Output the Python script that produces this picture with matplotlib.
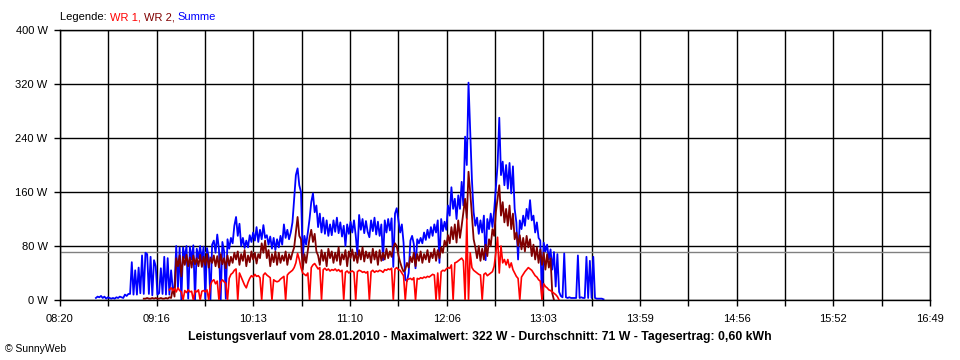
import numpy as np
import matplotlib
matplotlib.use('Agg')
import matplotlib.pyplot as plt

plt.rcParams['font.family'] = ['Liberation Sans', 'DejaVu Sans']

# time axis in minutes after midnight (08:20 .. 16:49)
t_min, t_max = 500, 1009
x_labels = ['08:20', '09:16', '10:13', '11:10', '12:06', '13:03', '13:59', '14:56', '15:52', '16:49']
y_ticks = [0, 80, 160, 240, 320, 400]
avg_w = 71  # Durchschnitt

# one value per minute
summe_start = 521  # 08:41
summe = [
    3, 5, 4, 6, 3, 5, 2, 4, 3, 2,
    3, 2, 4, 3, 5, 4, 3, 8, 6, 9,
    9, 56, 8, 44, 8, 48, 10, 66, 9, 70,
    68, 9, 64, 7, 59, 50, 8, 10, 47, 9,
    64, 8, 62, 8, 44, 16, 19, 80, 17, 78,
    0, 78, 62, 80, 2, 79, 60, 81, 0, 76,
    62, 80, 58, 79, 2, 77, 63, 0, 82, 88,
    70, 97, 75, 0, 86, 72, 2, 90, 76, 92,
    84, 110, 123, 95, 113, 80, 92, 77, 88, 78,
    96, 86, 100, 88, 108, 86, 104, 90, 111, 92,
    96, 82, 94, 76, 92, 74, 90, 78, 95, 82,
    112, 92, 104, 90, 100, 115, 150, 185, 195, 170,
    160, 62, 95, 82, 100, 120, 145, 158, 130, 140,
    108, 128, 100, 122, 98, 118, 95, 112, 96, 118,
    101, 122, 99, 115, 94, 110, 80, 112, 98, 116,
    100, 118, 96, 67, 126, 104, 120, 99, 117, 101,
    93, 118, 102, 122, 97, 116, 95, 112, 59, 118,
    100, 120, 103, 121, 49, 128, 136, 118, 100, 112,
    85, 30, 28, 40, 88, 95, 83, 47, 90, 84,
    92, 84, 100, 89, 104, 92, 108, 95, 112, 100,
    118, 55, 120, 102, 116, 104, 140, 125, 167, 135,
    150, 120, 155, 135, 175, 140, 242, 200, 322, 249,
    178, 130, 110, 122, 98, 118, 100, 125, 59, 120,
    105, 128, 108, 132, 165, 200, 270, 185, 205, 170,
    200, 165, 203, 158, 198, 135, 115, 60, 118, 105,
    125, 110, 135, 120, 148, 118, 125, 100, 115, 92,
    88, 0, 85, 72, 82, 60, 75, 45, 71, 20,
    68, 12, 6, 4, 69, 4, 3, 4, 3, 3,
    3, 3, 66, 3, 4, 3, 3, 64, 3, 58,
    3, 64, 3, 2, 2, 2, 2, 1,
]

wr2_start = 549  # 09:09
wr2 = [
    2, 2,
    3, 2, 2, 3, 2, 3, 2, 2, 3, 2,
    2, 3, 2, 4, 3, 17, 5, 62, 50, 66,
    35, 64, 52, 67, 50, 63, 48, 66, 53, 62,
    50, 67, 49, 64, 52, 68, 48, 63, 55, 66,
    50, 65, 48, 68, 53, 62, 47, 66, 51, 64,
    55, 70, 60, 72, 52, 68, 58, 74, 50, 66,
    56, 72, 60, 70, 54, 68, 62, 84, 70, 88,
    62, 74, 50, 68, 56, 72, 52, 70, 55, 66,
    58, 72, 52, 68, 60, 70, 78, 100, 123, 95,
    90, 45, 68, 55, 74, 92, 104, 86, 98, 72,
    66, 52, 74, 58, 70, 50, 76, 62, 72, 55,
    70, 58, 78, 52, 68, 60, 74, 50, 72, 62,
    75, 58, 70, 55, 74, 60, 78, 57, 72, 62,
    70, 55, 76, 60, 72, 52, 74, 58, 70, 60,
    76, 62, 72, 64, 78, 84, 80, 66, 56, 48,
    42, 45, 55, 48, 64, 56, 70, 50, 68, 58,
    72, 55, 68, 60, 74, 56, 70, 62, 76, 58,
    74, 62, 78, 70, 88, 80, 96, 84, 108, 90,
    112, 85, 118, 92, 110, 130, 150, 120, 190, 160,
    125, 90, 78, 62, 80, 58, 76, 60, 82, 65,
    90, 80, 105, 95, 130, 150, 170, 125, 145, 115,
    135, 110, 140, 105, 128, 90, 100, 80, 96, 75,
    92, 72, 95, 78, 90, 65, 82, 60, 78, 55,
    75, 52, 70, 45, 68, 48, 62, 10, 0,
]

wr1_start = 564  # 09:24
wr1 = [
    15, 18, 14, 17, 12, 18, 14,
    12, 0, 14, 11, 15, 12, 13, 0, 14, 12,
    15, 0, 13, 14, 12, 15, 0, 22, 28, 30,
    24, 28, 0, 26, 30, 27, 25, 0, 32, 38,
    40, 44, 46, 0, 40, 34, 28, 22, 18, 26,
    32, 36, 34, 38, 35, 36, 33, 0, 37, 40,
    37, 35, 33, 0, 30, 28, 27, 28, 31, 33,
    35, 0, 37, 40, 42, 44, 48, 55, 69, 60,
    48, 40, 38, 36, 40, 0, 48, 52, 54, 50,
    46, 48, 0, 45, 47, 44, 46, 43, 45, 44,
    46, 43, 45, 42, 44, 0, 41, 43, 40, 42,
    43, 41, 0, 42, 44, 43, 41, 42, 40, 42,
    0, 42, 44, 41, 43, 42, 44, 43, 41, 45,
    44, 46, 45, 47, 0, 46, 48, 45, 44, 40,
    36, 0, 30, 31, 32, 30, 33, 0, 32, 31,
    33, 32, 34, 33, 35, 34, 36, 38, 37, 0,
    40, 0, 42, 44, 43, 46, 48, 47, 52, 0,
    55, 56, 58, 60, 62, 58, 0, 120, 0, 70,
    48, 44, 42, 40, 38, 37, 0, 38, 40, 36,
    38, 40, 42, 50, 70, 93, 40, 80, 55, 60,
    52, 60, 48, 55, 45, 40, 35, 32, 0, 34,
    38, 42, 45, 48, 46, 44, 40, 36, 34, 30,
    28, 0, 24, 20, 18, 15, 14, 12, 10, 8,
    5, 0,
]

t_summe = summe_start + np.arange(len(summe))
t_wr2 = wr2_start + np.arange(len(wr2))
t_wr1 = wr1_start + np.arange(len(wr1))

fig = plt.figure(figsize=(9.6, 3.6), dpi=100)
ax = fig.add_axes([60 / 960, 60 / 360, 870 / 960, 270 / 360])

# grid
xt = np.linspace(t_min, t_max, 19)
for x in xt:
    ax.axvline(x, color='black', lw=1, zorder=1)
for y in y_ticks:
    ax.axhline(y, color='black', lw=1, zorder=1)
ax.axhline(avg_w, color='#808080', lw=1, zorder=1)

ax.plot(t_summe, summe, color='#0000ff', lw=1.3, zorder=2)
ax.plot(t_wr2, wr2, color='#800000', lw=1.3, zorder=3)
ax.plot(t_wr1, wr1, color='#ff0000', lw=1.2, zorder=4)

ax.set_xlim(t_min, t_max)
ax.set_ylim(0, 400)
ax.set_xticks(xt)
ax.set_xticklabels([x_labels[i // 2] if i % 2 == 0 else '' for i in range(len(xt))])
ax.set_yticks(y_ticks)
ax.set_yticklabels(['%d W' % v for v in y_ticks])
ax.tick_params(axis='both', direction='out', length=4, width=1, color='black',
               labelsize=8, pad=5)
ax.tick_params(axis='x', pad=6)
for s in ax.spines.values():
    s.set_color('black')
    s.set_linewidth(1)

# legend line on top
fig.canvas.draw()
r = fig.canvas.get_renderer()
xpos = 60 / 960
for txt, col in [('Legende: ', 'black'), ('WR 1, ', '#ff0000'), ('WR 2, ', '#800000'), ('Summe', '#0000ff')]:
    t = fig.text(xpos, 1 - 17 / 360, txt, color=col, fontsize=8, va='center', ha='left')
    bb = t.get_window_extent(renderer=r)
    xpos += bb.width / 960

fig.text(0.5, 1 - 337 / 360,
         'Leistungsverlauf vom 28.01.2010 - Maximalwert: 322 W - Durchschnitt: 71 W - Tagesertrag: 0,60 kWh',
         ha='center', va='center', fontsize=8.8, fontweight='bold')
fig.text(5 / 960, 1 - 349 / 360, '© SunnyWeb', ha='left', va='center', fontsize=7.5)

fig.savefig('out.png', dpi=100, facecolor='white')
